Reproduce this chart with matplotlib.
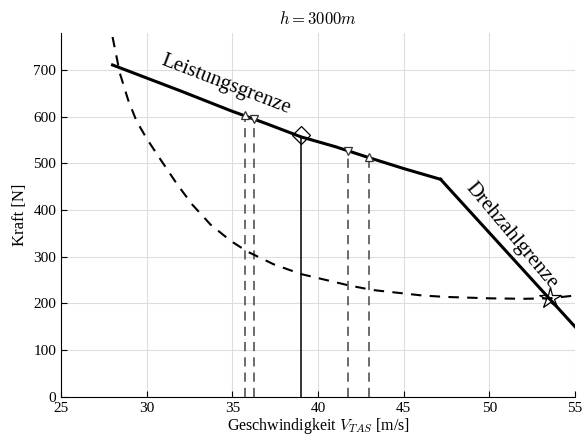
import matplotlib
matplotlib.use("Agg")
import matplotlib.pyplot as plt

plt.rcParams['font.family'] = ['Liberation Serif', 'DejaVu Serif']
plt.rcParams['mathtext.fontset'] = 'cm'

# Leistungsgrenze (power limit)
v_leist = [28.0, 30.0, 32.0, 34.9, 37.0, 39.0, 41.0, 43.0, 45.0, 47.15]
f_leist = [711, 683, 655, 613, 585, 557, 536, 512, 489, 466]

# Drehzahlgrenze (rpm limit)
v_dreh = [47.15, 55.0]
f_dreh = [466, 150]

# Widerstand (dashed curve)
v_wid = [28.0, 28.43, 28.92, 29.41, 30.0, 30.68, 31.76, 32.65, 33.72, 34.9,
         35.88, 37.4, 39.0, 41.76, 43.14, 46.1, 47.45, 50.0, 52.0, 53.5, 55.0]
f_wid = [771, 693, 635, 590, 553, 515, 456, 412, 369, 334,
         311, 284, 263, 239, 229, 217, 214, 211, 210, 211, 217]

# Markierte Punkte
v_pts = [35.73, 36.24, 39.0, 41.75, 43.0]
f_pts = [603, 596, 560, 527, 513]
m_pts = ['^', 'v', 'D', 'v', '^']
dashed_pts = [True, True, False, True, True]

v_star = 53.55
f_star = 211

fig = plt.figure(figsize=(5.88, 4.37), dpi=100)
ax = fig.add_axes([0.104, 0.092, 0.874, 0.833])

ax.grid(True, color='#dddddd', linewidth=0.8)
ax.set_axisbelow(True)

for v, f, m, d in zip(v_pts, f_pts, m_pts, dashed_pts):
    if d:
        ax.plot([v, v], [0, f], color='#444444', linestyle=(0, (6, 4)), linewidth=1.1)
        ax.plot(v, f, marker=m, markersize=6, markerfacecolor='white',
                markeredgecolor='#333333', markeredgewidth=0.9, zorder=5)
    else:
        ax.plot([v, v], [0, f - 5], color='black', linewidth=1.1)

ax.plot(v_wid, f_wid, color='black', linestyle=(0, (5, 4)), linewidth=1.5)
ax.plot(v_leist, f_leist, color='black', linewidth=2.2)
ax.plot(v_dreh, f_dreh, color='black', linewidth=2.2)

ax.plot(v_pts[2], f_pts[2], marker='D', markersize=9, markerfacecolor='none',
        markeredgecolor='black', markeredgewidth=0.9, zorder=6)
ax.plot(v_star, f_star, marker='*', markersize=16, markerfacecolor='none',
        markeredgecolor='black', markeredgewidth=0.9, zorder=6)

ax.text(34.6, 668, 'Leistungsgrenze', rotation=-21, fontsize=15,
        ha='center', va='center')
ax.text(51.25, 345, 'Drehzahlgrenze', rotation=-50, fontsize=15,
        ha='center', va='center')

ax.set_xlim(25, 55)
ax.set_ylim(0, 780)
ax.set_xticks(range(25, 56, 5))
ax.set_yticks(range(0, 701, 100))
ax.tick_params(direction='in', labelsize=11, length=4)
ax.spines['top'].set_visible(False)
ax.spines['right'].set_visible(False)

ax.set_title('$h = 3000m$', fontsize=12)
ax.set_xlabel('Geschwindigkeit $V_{TAS}$ [m/s]', fontsize=11.5, labelpad=1)
ax.set_ylabel('Kraft [N]', fontsize=12)

fig.savefig('out.png', dpi=100)
